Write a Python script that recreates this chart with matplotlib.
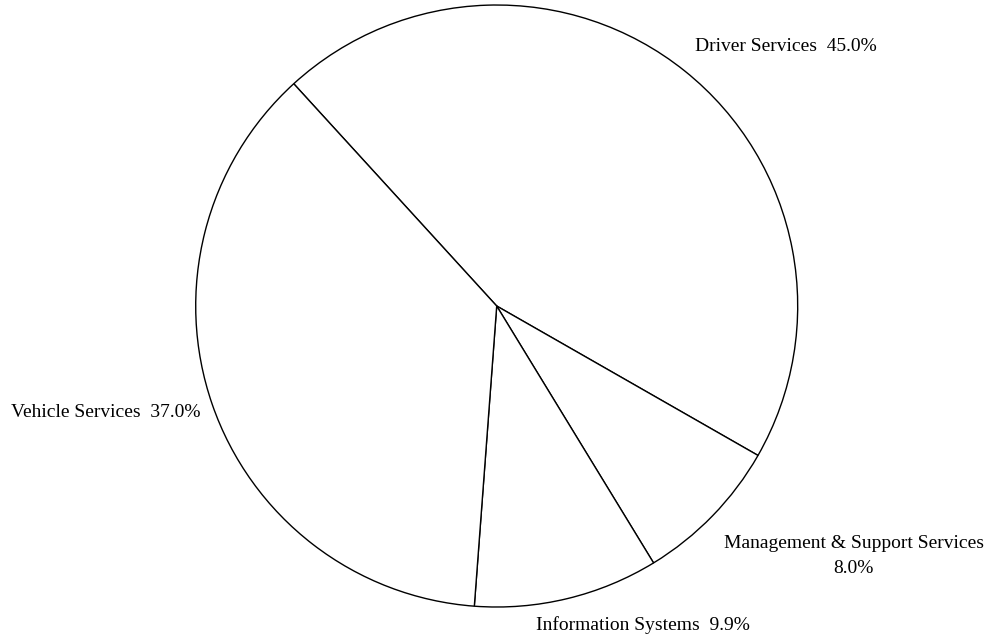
"""Pie chart: share of spending by service area."""
import numpy as np
import matplotlib; matplotlib.use("Agg")
import matplotlib.pyplot as plt

# data
labels = ["Driver Services", "Management & Support Services", "Information Systems", "Vehicle Services"]
shares = [45.0, 8.0, 9.9, 37.0]
label_text = ["Driver Services  45.0%", "Management & Support Services\n8.0%",
              "Information Systems  9.9%", "Vehicle Services  37.0%"]

plt.rcParams["font.family"] = ["Liberation Serif", "DejaVu Serif"]
fig = plt.figure(figsize=(9.98, 6.41), dpi=100)
ax = fig.add_axes([0.1961, 0.0530, 0.6032, 0.9392])

wedges, _ = ax.pie(shares, startangle=132.4, counterclock=False, radius=1,
                   colors=["white"] * len(shares),
                   wedgeprops=dict(edgecolor="black", linewidth=1.0))
ax.set_xlim(-1, 1); ax.set_ylim(-1, 1); ax.axis("off")

# label placement: offset (pixels) from the wedge's outer mid point, plus alignment
place = [((10, 25), "left"), ((11, -40), "left"), ((-31, -26), "left"), ((-12, -8), "right")]
for w, txt, (off, ha) in zip(wedges, label_text, place):
    mid = np.deg2rad((w.theta1 + w.theta2) / 2)
    ax.annotate(txt, (np.cos(mid), np.sin(mid)), xytext=off, textcoords="offset pixels",
                ha=ha, va="center", multialignment="center", linespacing=1.6,
                fontsize=14, color="black")

plt.savefig("out.png", dpi=100)
